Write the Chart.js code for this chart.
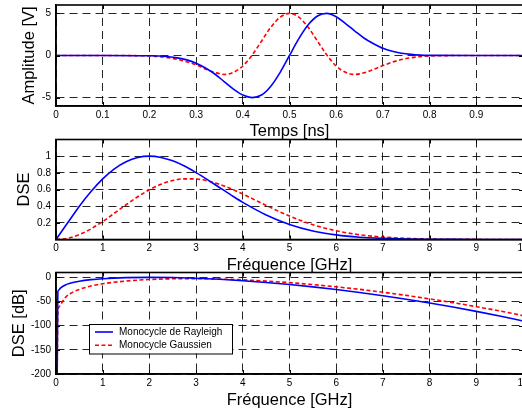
<!DOCTYPE html>
<html>
<head>
<meta charset="utf-8">
<script src="https://cdn.jsdelivr.net/npm/chart.js@4.4.1/dist/chart.umd.min.js"></script>
<style>
  html, body { margin: 0; padding: 0; overflow: hidden; background: #fff; }
  #wrap { position: relative; width: 522px; height: 416px; overflow: hidden; }
  canvas { position: absolute; left: 0; top: 0; }
</style>
</head>
<body>
<div id="wrap">
  <canvas id="pulseChart" width="540" height="416"></canvas>
  <canvas id="dseChart" width="540" height="416"></canvas>
  <canvas id="dseDbChart" width="540" height="416"></canvas>
</div>
<script>
// Pulse shapes in time (ns) -> amplitude (V)
const timeNs = [0, 0.1, 0.2, 0.22, 0.24, 0.26, 0.28, 0.3, 0.32, 0.34, 0.36, 0.38, 0.4, 0.42, 0.44, 0.46, 0.48,
    0.5, 0.52, 0.54, 0.56, 0.58, 0.6, 0.62, 0.64, 0.66, 0.68, 0.7, 0.72, 0.74, 0.76, 0.78, 0.8, 0.9, 1];
const rayleighPulse = [0, 0, -0.03, -0.06, -0.14, -0.28, -0.52, -0.92, -1.48, -2.2, -3.1, -4.0, -4.7, -5.0, -4.7, -3.65, -2.0,
    0, 2.0, 3.65, 4.7, 5.0, 4.6, 3.8, 2.9, 2.05, 1.4, 0.85, 0.5, 0.27, 0.13, 0.05, 0.02, 0, 0];
const gaussPulse = [0, 0, -0.05, -0.12, -0.25, -0.45, -0.75, -1.1, -1.6, -2.0, -2.25, -2.0, -1.25, 0.05, 1.7, 3.35, 4.55,
    5.0, 4.55, 3.35, 1.7, 0.05, -1.25, -2.0, -2.25, -2.05, -1.65, -1.2, -0.8, -0.48, -0.27, -0.13, -0.05, 0, 0];

// Spectral density (linear), frequency in GHz
const freqGHz = [0, 0.25, 0.5, 0.75, 1, 1.25, 1.5, 1.75, 2, 2.25, 2.5, 2.75, 3, 3.25, 3.5, 3.75, 4,
    4.5, 5, 5.5, 6, 6.5, 7, 7.5, 8, 8.5, 9, 9.5, 10];
const rayleighDse = [0, 0.2, 0.4, 0.576, 0.727, 0.848, 0.933, 0.984, 1.0, 0.985, 0.944, 0.881, 0.803, 0.716, 0.624, 0.533, 0.446,
    0.295, 0.181, 0.103, 0.055, 0.027, 0.013, 0.005, 0.002, 0.001, 0.0003, 0.0001, 0];
const gaussDse = [0, 0.015, 0.059, 0.128, 0.216, 0.315, 0.417, 0.513, 0.597, 0.663, 0.707, 0.728, 0.726, 0.703, 0.663, 0.608, 0.545,
    0.409, 0.281, 0.178, 0.105, 0.057, 0.029, 0.014, 0.006, 0.002, 0.001, 0.0003, 0.0001];

// Spectral density in dB (first sample sits just right of 0 GHz)
const freqDbGHz = [0.025, 0.04, 0.06, 0.1, 0.2, 0.3, 0.5, 0.75, 1, 1.5, 2, 2.5, 3, 3.5, 4, 4.5, 5, 5.5, 6, 6.5, 7, 7.5, 8, 8.5, 9, 9.5, 10];
const rayleighDseDb = [-200, -29.6, -26.1, -21.7, -15.7, -12.2, -8.0, -4.8, -2.8, -0.6, 0, -0.5, -1.9, -4.1, -7.0, -10.6, -14.8,
    -19.7, -25.2, -31.3, -38.0, -45.3, -53.1, -61.5, -70.5, -80.1, -90.3];
const gaussDseDb = [-200, -68, -62, -56, -42, -34, -25, -18, -13.3, -7.6, -4.5, -3.0, -2.8, -3.6, -5.3, -7.8, -11.0,
    -15.0, -19.6, -24.9, -30.8, -37.4, -44.6, -52.3, -60.7, -69.6, -79.2];

// Tick positions
const timeTicks = [0, 0.1, 0.2, 0.3, 0.4, 0.5, 0.6, 0.7, 0.8, 0.9];
const freqTicks = [0, 1, 2, 3, 4, 5, 6, 7, 8, 9, 10];
const ampTicks = [-5, 0, 5];
const dseTicks = [0.2, 0.4, 0.6, 0.8, 1];
const dbTicks = [-200, -150, -100, -50, 0];

const seriesNames = ['Monocycle de Rayleigh', 'Monocycle Gaussien'];

const FONT = '"Liberation Sans", Arial, sans-serif';
Chart.defaults.font.family = FONT;
Chart.defaults.color = '#000';

// Closed frame round the plot area, with small inward ticks (Matlab look)
const axesBox = {
    id: 'axesBox',
    afterDatasetsDraw(chart) {
        const { ctx, chartArea: a, scales } = chart;
        ctx.save();
        ctx.strokeStyle = '#000';
        ctx.lineWidth = 1;
        ctx.beginPath();
        scales.x.ticks.forEach(t => {
            const px = Math.round(scales.x.getPixelForValue(t.value)) + 0.5;
            ctx.moveTo(px, a.bottom); ctx.lineTo(px, a.bottom - 4);
            ctx.moveTo(px, a.top); ctx.lineTo(px, a.top + 4);
        });
        scales.y.ticks.forEach(t => {
            const py = Math.round(scales.y.getPixelForValue(t.value)) + 0.5;
            ctx.moveTo(a.left, py); ctx.lineTo(a.left + 4, py);
            ctx.moveTo(a.right, py); ctx.lineTo(a.right - 4, py);
        });
        ctx.stroke();
        ctx.lineWidth = 1.6;
        ctx.strokeRect(a.left, a.top, a.right - a.left, a.bottom - a.top);
        ctx.restore();
    }
};

// Legend box placed inside the plot area
const boxLegend = {
    id: 'boxLegend',
    afterDraw(chart, args, opts) {
        if (!opts.display) return;
        const { ctx, chartArea } = chart;
        const x = Math.round(chartArea.left + opts.x);
        const y = Math.round(chartArea.top + opts.y);
        ctx.save();
        ctx.fillStyle = '#fff';
        ctx.fillRect(x, y, opts.width, opts.height);
        ctx.strokeStyle = '#000';
        ctx.lineWidth = 1;
        ctx.strokeRect(x + 0.5, y + 0.5, opts.width, opts.height);
        ctx.font = '10px ' + FONT;
        ctx.textBaseline = 'middle';
        chart.data.datasets.forEach((ds, i) => {
            const rowY = y + 8 + i * 13.3;
            ctx.strokeStyle = ds.borderColor;
            ctx.lineWidth = ds.borderWidth;
            ctx.setLineDash(ds.borderDash || []);
            ctx.beginPath();
            ctx.moveTo(x + 6, rowY);
            ctx.lineTo(x + 24, rowY);
            ctx.stroke();
            ctx.setLineDash([]);
            ctx.fillStyle = '#000';
            ctx.fillText(ds.label, x + 30, rowY);
        });
        ctx.restore();
    }
};

function points(xs, ys) {
    return xs.map((v, i) => ({ x: v, y: ys[i] }));
}

function buildChart(id, cfg) {
    const gridDash = [8, 5];
    return new Chart(document.getElementById(id), {
        type: 'line',
        data: {
            datasets: [{
                label: seriesNames[0],
                data: points(cfg.x, cfg.blue),
                borderColor: '#0000ff',
                borderWidth: 1.6,
                pointRadius: 0,
                cubicInterpolationMode: 'monotone'
            }, {
                label: seriesNames[1],
                data: points(cfg.x, cfg.red),
                borderColor: '#ff0000',
                borderWidth: 1.6,
                borderDash: [4, 2.5],
                pointRadius: 0,
                cubicInterpolationMode: 'monotone'
            }]
        },
        options: {
            responsive: false,
            animation: false,
            events: [],
            layout: { padding: { top: cfg.top, bottom: cfg.bottom, left: 0, right: 17 } },
            plugins: {
                legend: { display: false },
                tooltip: { enabled: false },
                boxLegend: cfg.legend || { display: false }
            },
            scales: {
                x: {
                    type: 'linear',
                    min: cfg.xMin,
                    max: cfg.xMax,
                    afterBuildTicks: s => { s.ticks = cfg.xTicks.map(v => ({ value: v })); },
                    afterFit: s => { s.height = cfg.xHeight; s.paddingLeft = 0; s.paddingRight = 0; },
                    ticks: { font: { size: 10 }, padding: 3, maxRotation: 0, autoSkip: false, callback: v => String(v) },
                    grid: { color: 'rgba(0,0,0,0.85)', lineWidth: 1, drawTicks: false },
                    border: { display: true, color: '#000', width: 1.5, dash: gridDash },
                    title: { display: true, text: cfg.xTitle, font: { size: 16.5 }, padding: { top: 0, bottom: 0 } }
                },
                y: {
                    type: 'linear',
                    min: cfg.yMin,
                    max: cfg.yMax,
                    afterBuildTicks: s => { s.ticks = cfg.yTicks.map(v => ({ value: v })); },
                    afterFit: s => { s.width = 56; s.paddingTop = 0; s.paddingBottom = 0; },
                    ticks: { font: { size: 10 }, padding: 5, autoSkip: false, callback: v => String(v) },
                    grid: { color: 'rgba(0,0,0,0.85)', lineWidth: 1, drawTicks: false },
                    border: { display: true, color: '#000', width: 1.5, dash: gridDash },
                    title: { display: true, text: cfg.yTitle, font: { size: 16.5 }, padding: { top: cfg.yTitlePad, bottom: 0 } }
                }
            }
        },
        plugins: [axesBox, boxLegend]
    });
}

// Top: pulses in time
buildChart('pulseChart', {
    x: timeNs, blue: rayleighPulse, red: gaussPulse,
    xMin: 0, xMax: 1, xTicks: timeTicks, xTitle: 'Temps [ns]',
    yMin: -6, yMax: 6, yTicks: ampTicks, yTitle: 'Amplitude [V]', yTitlePad: 20,
    top: 5, xHeight: 35, bottom: 275
});

// Middle: linear DSE
buildChart('dseChart', {
    x: freqGHz, blue: rayleighDse, red: gaussDse,
    xMin: 0, xMax: 10, xTicks: freqTicks, xTitle: 'Fréquence [GHz]',
    yMin: 0, yMax: 1.2, yTicks: dseTicks, yTitle: 'DSE', yTitlePad: 14.6,
    top: 139.5, xHeight: 35.5, bottom: 141
});

// Bottom: DSE in dB, with legend
buildChart('dseDbChart', {
    x: freqDbGHz, blue: rayleighDseDb, red: gaussDseDb,
    xMin: 0, xMax: 10, xTicks: freqTicks, xTitle: 'Fréquence [GHz]',
    yMin: -200, yMax: 10, yTicks: dbTicks, yTitle: 'DSE [dB]', yTitlePad: 9.6,
    top: 272.5, xHeight: 36.4, bottom: 5.6,
    legend: { display: true, x: 32.7, y: 51.7, width: 143, height: 29.5 }
});
</script>
</body>
</html>
